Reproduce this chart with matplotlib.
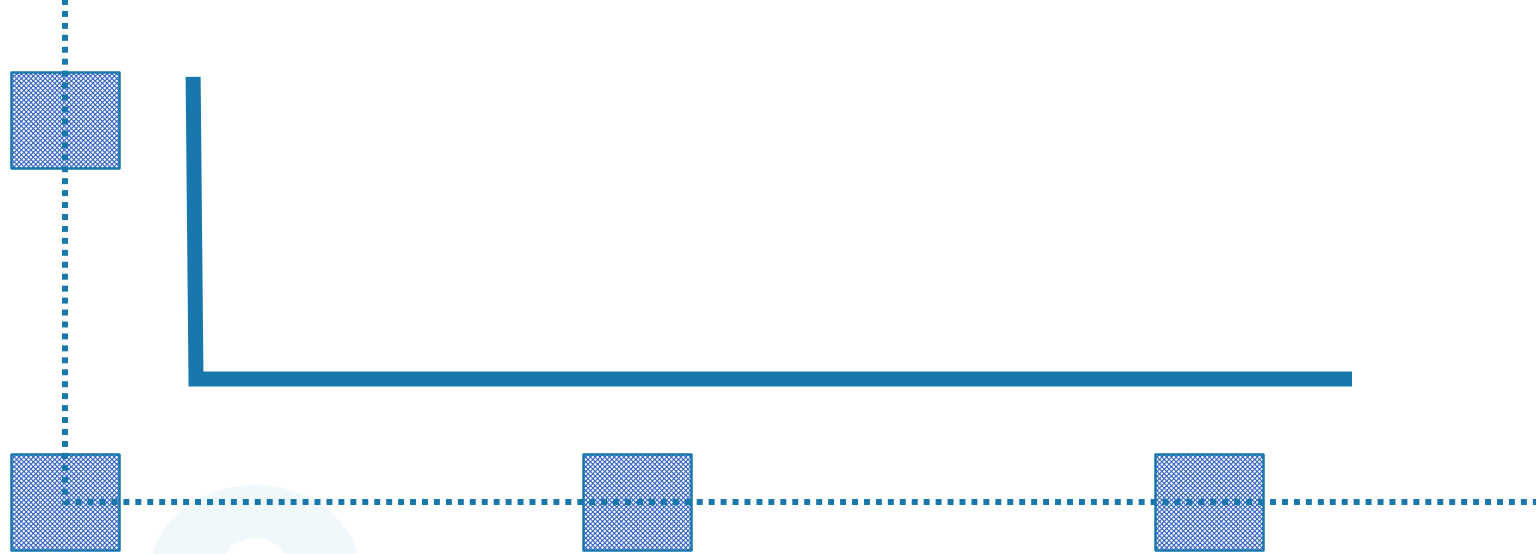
import matplotlib
matplotlib.use("Agg")
import matplotlib.pyplot as plt
from matplotlib.path import Path
from matplotlib.patches import Ellipse
import numpy as np

# ---- data ----
dotted_x = [0, 0, 0, 1, 2, 3]
dotted_y = [1.6, 1, 0, 0, 0, 0]
marker_x = [0, 0, 1, 2]
marker_y = [1, 0, 0, 0]
thick_x = [0.224, 0.229, 2.25]
thick_y = [1.113, 0.322, 0.322]

BLUE = "#1878ad"
HATCH = "#3d6cc6"
WATERMARK = "#f0f8fc"

plt.rcParams["hatch.linewidth"] = 0.8

fig = plt.figure(figsize=(15.36, 5.54), dpi=100)
ax = fig.add_axes([0, 0, 1, 1])
ax.set_axis_off()
ax.set_xlim(-65 / 572, (1536 - 65) / 572)
ax.set_ylim(-52 / 382, 502 / 382)

# faint watermark glyph at the bottom
ax.add_patch(Ellipse((0.332, -0.186), 0.367, 0.461, facecolor=WATERMARK,
                     edgecolor="none", zorder=0))
ax.add_patch(Ellipse((0.332, -0.154), 0.105, 0.120, facecolor="white",
                     edgecolor="none", zorder=0.5))

# rectangular marker
rect = Path([(-1, -0.898), (1, -0.898), (1, 0.898), (-1, 0.898), (-1, -0.898)],
            [Path.MOVETO, Path.LINETO, Path.LINETO, Path.LINETO, Path.CLOSEPOLY])
s = 77.4 ** 2
ax.scatter(marker_x, marker_y, s=s, marker=rect, facecolor="white",
           edgecolor=HATCH, linewidths=0, hatch="xxxxxxx", zorder=2)
ax.scatter(marker_x, marker_y, s=s, marker=rect, facecolor="none",
           edgecolor=BLUE, linewidths=1.8, zorder=2.1)

ax.plot(dotted_x, dotted_y, color=BLUE, lw=4.3, linestyle=(0, (1, 1)),
        dash_capstyle="butt", zorder=3)

ax.plot(thick_x, thick_y, color=BLUE, lw=10.8, solid_capstyle="butt",
        solid_joinstyle="miter", zorder=4)

fig.savefig("out.png", dpi=100)
